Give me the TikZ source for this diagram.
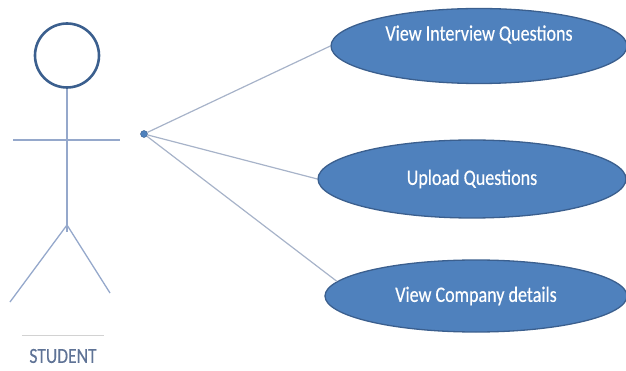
\documentclass[tikz,border=0pt]{standalone}
\usepackage{fontspec}
\setmainfont{Carlito}
\newfontfamily\casefont[FakeStretch=0.82, FakeBold=0.4]{Carlito}
\usetikzlibrary{shapes.geometric}
\definecolor{caseblue}{HTML}{4F81BD}
\definecolor{caseedge}{HTML}{3B5F8E}
\definecolor{stickline}{HTML}{95A8CB}
\definecolor{linkline}{HTML}{A7B3C9}
\definecolor{labelgray}{HTML}{5F7396}
\begin{document}
\begin{tikzpicture}[x=1pt, y=-1pt,
		usecase/.style={ellipse, draw=caseedge, fill=caseblue, line width=1.3pt,
			text=white, font=\casefont\fontsize{22}{22}\selectfont, align=center, inner sep=0pt},
		limb/.style={draw=stickline, line width=1.3pt},
		link/.style={draw=linkline, line width=1.2pt}]
		\useasboundingbox (0,0) rectangle (626,371);

		% the student
		\node[circle, draw=caseedge, line width=2.6pt, minimum size=64pt, inner sep=0pt] (head) at (67,55.5) {};
		\coordinate (hip) at (67,225);
		\coordinate (tail) at (67,232);
		\coordinate (lhand) at (13,140);
		\coordinate (rhand) at (120,140);
		\coordinate (lfoot) at (10,302);
		\coordinate (rfoot) at (110,293);
		\draw[limb] (head.south) -- (tail);
		\draw[limb] (lhand) -- (rhand);
		\draw[limb] (hip) -- (lfoot);
		\draw[limb] (hip) -- (rfoot);

		\node[text=labelgray, font=\casefont\fontsize{21.5}{22}\selectfont, minimum width=82pt, minimum height=40pt, inner sep=0pt] (student) at (63,356) {STUDENT};
		\draw[gray!35, line width=0.8pt] (student.north west) -- (student.north east);

		% use cases
		\node[circle, fill=caseblue, draw=caseedge, minimum size=7pt, inner sep=0pt] (port) at (144,134) {};
		\node[usecase, minimum width=296pt, minimum height=75pt] (viewq) at (479,46) {View Interview Questions\\[4pt]\mbox{}};
		\node[usecase, minimum width=308pt, minimum height=78pt] (upload) at (472,179) {Upload Questions};
		\node[usecase, minimum width=302pt, minimum height=72pt] (company) at (476,296) {View Company details};

		\draw[link] (port) -- (viewq.west);
		\draw[link] (port) -- (upload.west);
		\draw[link] (port) -- (company.174);
\end{tikzpicture}
\end{document}
